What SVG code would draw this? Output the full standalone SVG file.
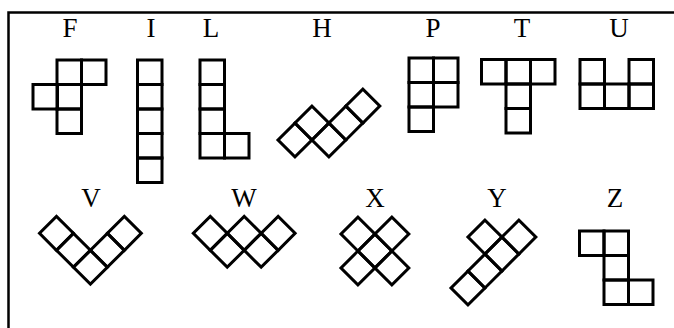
<svg xmlns="http://www.w3.org/2000/svg" width="674" height="328" viewBox="0 0 674 328">
<style>
  .c{fill:none;stroke:#000;stroke-width:3;stroke-linejoin:miter}
  .lbl{font-family:"Liberation Serif","Times New Roman",serif;font-size:27px;text-anchor:middle;fill:#000}
  .frame{fill:none;stroke:#000;stroke-width:2.5}
</style>
<defs>
  <rect id="q" width="24.5" height="24.5" class="c"/>
  <rect id="d" width="24" height="24" class="c"/>
</defs>
<rect width="674" height="328" fill="#fff"/>
<path class="frame" d="M8.5,328 V12.5 H674"/>

<g id="F">
  <text class="lbl" x="70" y="37">F</text>
  <use href="#q" x="57" y="60"/><use href="#q" x="81.5" y="60"/>
  <use href="#q" x="33" y="84.5"/><use href="#q" x="57" y="84.5"/>
  <use href="#q" x="57" y="109"/>
</g>
<g id="I">
  <text class="lbl" x="151" y="37">I</text>
  <use href="#q" x="137.5" y="60"/><use href="#q" x="137.5" y="84.5"/>
  <use href="#q" x="137.5" y="109"/><use href="#q" x="137.5" y="133.5"/>
  <use href="#q" x="137.5" y="158"/>
</g>
<g id="L">
  <text class="lbl" x="211" y="37">L</text>
  <use href="#q" x="200" y="60"/><use href="#q" x="200" y="84.5"/>
  <use href="#q" x="200" y="109"/><use href="#q" x="200" y="133.5"/>
  <use href="#q" x="224.5" y="133.5"/>
</g>
<g id="H">
  <text class="lbl" x="322" y="37">H</text>
  <g transform="translate(278,140) rotate(-45)">
    <use href="#d" x="0" y="0"/><use href="#d" x="24" y="0"/>
    <use href="#d" x="24" y="24"/><use href="#d" x="48" y="24"/><use href="#d" x="72" y="24"/>
  </g>
</g>
<g id="P">
  <text class="lbl" x="433" y="37">P</text>
  <use href="#q" x="409" y="58"/><use href="#q" x="433.5" y="58"/>
  <use href="#q" x="409" y="82.5"/><use href="#q" x="433.5" y="82.5"/>
  <use href="#q" x="409" y="107"/>
</g>
<g id="T">
  <text class="lbl" x="522" y="37">T</text>
  <use href="#q" x="481.5" y="59.5"/><use href="#q" x="506" y="59.5"/><use href="#q" x="530.5" y="59.5"/>
  <use href="#q" x="506" y="84"/><use href="#q" x="506" y="108.5"/>
</g>
<g id="U">
  <text class="lbl" x="619" y="37">U</text>
  <use href="#q" x="580" y="59.5"/><use href="#q" x="629" y="59.5"/>
  <use href="#q" x="580" y="84"/><use href="#q" x="604.5" y="84"/><use href="#q" x="629" y="84"/>
</g>

<g id="V">
  <text class="lbl" x="91" y="207">V</text>
  <g transform="translate(39.5,233.3) rotate(-45)">
    <use href="#d" x="0" y="0"/><use href="#d" x="0" y="24"/><use href="#d" x="0" y="48"/>
    <use href="#d" x="24" y="48"/><use href="#d" x="48" y="48"/>
  </g>
</g>
<g id="W">
  <text class="lbl" x="244" y="207">W</text>
  <g transform="translate(193.3,233.3) rotate(-45)">
    <use href="#d" x="0" y="0"/><use href="#d" x="0" y="24"/><use href="#d" x="24" y="24"/>
    <use href="#d" x="24" y="48"/><use href="#d" x="48" y="48"/>
  </g>
</g>
<g id="X">
  <text class="lbl" x="375" y="207">X</text>
  <g transform="translate(324,251) rotate(-45)">
    <use href="#d" x="24" y="0"/><use href="#d" x="0" y="24"/><use href="#d" x="24" y="24"/>
    <use href="#d" x="48" y="24"/><use href="#d" x="24" y="48"/>
  </g>
</g>
<g id="Y">
  <text class="lbl" x="497" y="207">Y</text>
  <g transform="translate(451,288) rotate(-45)">
    <use href="#d" x="0" y="0"/><use href="#d" x="24" y="0"/><use href="#d" x="48" y="0"/>
    <use href="#d" x="72" y="0"/><use href="#d" x="48" y="-24"/>
  </g>
</g>
<g id="Z">
  <text class="lbl" x="615" y="207">Z</text>
  <use href="#q" x="579.5" y="231"/><use href="#q" x="604" y="231"/>
  <use href="#q" x="604" y="255.5"/>
  <use href="#q" x="604" y="280"/><use href="#q" x="628.5" y="280"/>
</g>
</svg>
